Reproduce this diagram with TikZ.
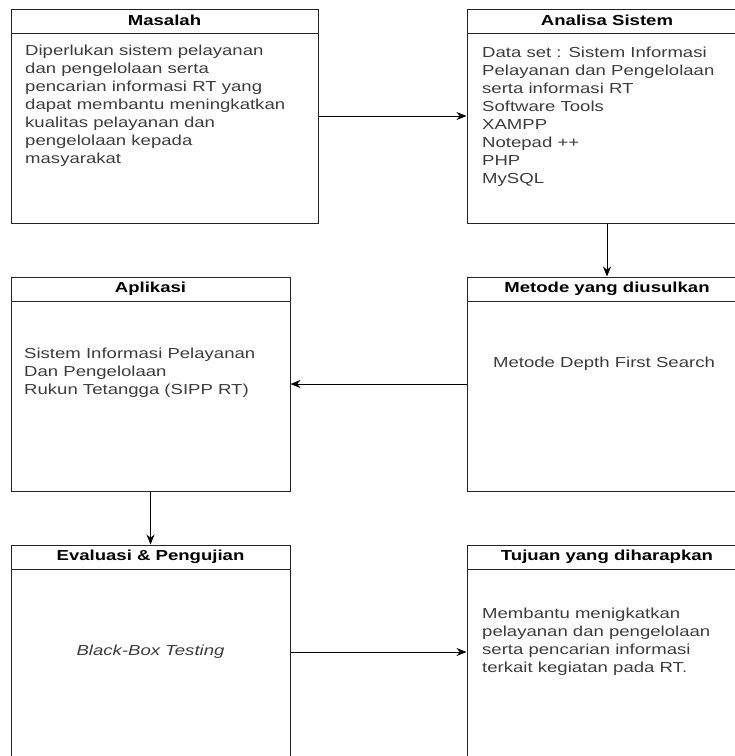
\documentclass[tikz,border=0pt]{standalone}
\usepackage{fontspec}
\setmainfont{Liberation Sans}[FakeStretch=1.28]
\usetikzlibrary{arrows.meta, positioning}
\definecolor{linecolor} {RGB}{35, 35, 35}
\definecolor{bodycolor} {RGB}{60, 60, 60}
\tikzset{
	lanebox/.style={
		rectangle, draw=linecolor, line width=1pt,
		minimum width=279pt, minimum height=214pt,
		inner sep=0pt,
		path picture={
			\draw[linecolor, line width=1pt]
			([yshift=-24pt]path picture bounding box.north west) --
			([yshift=-24pt]path picture bounding box.north east);
		}
	},
	titletext/.style={
		minimum height=24pt, inner sep=0pt,
		font=\fontsize{14.5}{18}\selectfont\bfseries, text=black
	},
	bodytext/.style={
		align=left, inner sep=0pt,
		font=\fontsize{14.5}{18}\selectfont, text=bodycolor
	},
	arrow/.style={
		-{Stealth[length=10pt, width=8pt]}, line width=1pt, color=black
	}
}
\begin{document}
\begin{tikzpicture}[x=1pt, y=-1pt]
		\useasboundingbox (0,0) rectangle (735,756);
		
		%% ═══════════════════════════════
		%%  ROW 0 — Masalah + Analisa
		%% ═══════════════════════════════
		\node[lanebox, minimum width=307pt] (masalah) at (164.5,116) {};
		\node[titletext, below=0pt of masalah.north] (masalahtitle) {Masalah};
		\node[bodytext, anchor=north west] (masalahtext) at (25,45)
		{Diperlukan sistem pelayanan\\dan pengelolaan serta\\pencarian informasi RT yang\\dapat membantu meningkatkan\\kualitas pelayanan dan\\pengelolaan kepada\\masyarakat};
		
		\node[lanebox, minimum width=280pt] (analisa) at (607,116) {};
		\node[titletext, below=0pt of analisa.north] (analisatitle) {Analisa Sistem};
		\node[bodytext, anchor=north west] (analisatext) at (482,47)
		{Data set : Sistem Informasi\\Pelayanan dan Pengelolaan\\serta informasi RT\\Software Tools\\XAMPP\\Notepad ++\\PHP\\MySQL};
		
		%% ═══════════════════════════════
		%%  ROW 1 — Aplikasi + Metode
		%% ═══════════════════════════════
		\node[lanebox] (aplikasi) at (150.5,384) {};
		\node[titletext, below=0pt of aplikasi.north] (aplikasititle) {Aplikasi};
		\node[bodytext, anchor=north west] (aplikasitext) at (24,348)
		{Sistem Informasi Pelayanan\\Dan Pengelolaan\\Rukun Tetangga (SIPP RT)};
		
		\node[lanebox, minimum width=280pt] (metode) at (607,384) {};
		\node[titletext, below=0pt of metode.north] (metodetitle) {Metode yang diusulkan};
		\node[bodytext] (metodetext) at (604,364) {Metode Depth First Search};
		
		%% ═══════════════════════════════
		%%  ROW 2 — Evaluasi + Tujuan
		%% ═══════════════════════════════
		\node[lanebox] (evaluasi) at (150.5,652) {};
		\node[titletext, below=0pt of evaluasi.north] (evaluasititle) {Evaluasi \& Pengujian};
		\node[bodytext] (evaluasitext) at (150.5,652) {\itshape Black-Box Testing};
		
		\node[lanebox, minimum width=280pt] (tujuan) at (607,652) {};
		\node[titletext, below=0pt of tujuan.north] (tujuantitle) {Tujuan yang diharapkan};
		\node[bodytext, anchor=north west] (tujuantext) at (482,608)
		{Membantu menigkatkan\\pelayanan dan pengelolaan\\serta pencarian informasi\\terkait kegiatan pada RT.};
		
		%% ═══════════════════════════════
		%%  ARROWS
		%% ═══════════════════════════════
		\draw[arrow] (masalah.east) -- (analisa.west);
		\draw[arrow] (analisa.south) -- (metode.north);
		\draw[arrow] (metode.west) -- (aplikasi.east);
		\draw[arrow] (aplikasi.south) -- (evaluasi.north);
		\draw[arrow] (evaluasi.east) -- (tujuan.west);
	\end{tikzpicture}
\end{document}
